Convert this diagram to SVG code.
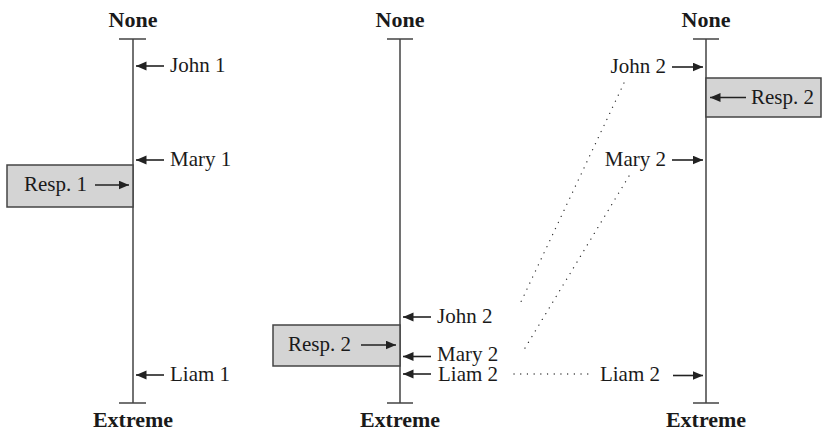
<svg xmlns="http://www.w3.org/2000/svg" width="822" height="432" viewBox="0 0 822 432">
<defs>
<style>
text{font-family:"Liberation Serif","Times New Roman",serif;fill:#1a1a1a;font-size:21px}
.h{font-weight:bold;font-size:22px;text-anchor:middle}
.ax{stroke:#444;stroke-width:1.5;fill:none}
.ar{stroke:#222;stroke-width:1.6;fill:none;marker-end:url(#ah)}
.box{fill:#d4d4d4;stroke:#444;stroke-width:1.5}
.dot{stroke:#333;stroke-width:1.3;fill:none;stroke-dasharray:0.1 6.6;stroke-linecap:round}
.e{text-anchor:end}
</style>
<marker id="ah" markerUnits="userSpaceOnUse" markerWidth="12" markerHeight="10" refX="10.5" refY="4.5" orient="auto">
<path d="M0,0 L10.5,4.5 L0,9 z" fill="#222"/>
</marker>
</defs>
<g id="axis1">
<text class="h" x="133" y="27">None</text>
<path class="ax" d="M133,39 V403 M119,39 H146 M119,403 H146"/>
<text class="h" x="133" y="427">Extreme</text>
</g>
<g id="axis2">
<text class="h" x="400" y="27">None</text>
<path class="ax" d="M400,39 V403 M387,39 H413 M387,403 H413"/>
<text class="h" x="400" y="427">Extreme</text>
</g>
<g id="axis3">
<text class="h" x="706" y="27">None</text>
<path class="ax" d="M706,39 V403 M693,39 H719 M693,403 H719"/>
<text class="h" x="706" y="427">Extreme</text>
</g>
<g id="resp1">
<rect class="box" x="7" y="165" width="126" height="42"/>
<text x="24" y="191">Resp. 1</text>
<line class="ar" x1="95" y1="185" x2="129" y2="185"/>
</g>
<g id="resp2-mid">
<rect class="box" x="273" y="325" width="127" height="41"/>
<text x="288" y="351">Resp. 2</text>
<line class="ar" x1="361" y1="345" x2="396" y2="345"/>
</g>
<g id="resp2-right">
<rect class="box" x="706" y="78" width="115" height="39"/>
<line class="ar" x1="746" y1="97.5" x2="710" y2="97.5"/>
<text x="751" y="104">Resp. 2</text>
</g>
<g id="john1"><line class="ar" x1="164" y1="66" x2="136" y2="66"/><text x="170" y="72">John 1</text></g>
<g id="mary1"><line class="ar" x1="164" y1="160" x2="136" y2="160"/><text x="170" y="166">Mary 1</text></g>
<g id="liam1"><line class="ar" x1="164" y1="375" x2="136" y2="375"/><text x="170" y="381">Liam 1</text></g>
<g id="john2-mid"><line class="ar" x1="431" y1="317" x2="403" y2="317"/><text x="437" y="323">John 2</text></g>
<g id="mary2-mid"><line class="ar" x1="431" y1="356.5" x2="403" y2="356.5"/><text x="437" y="360.5">Mary 2</text></g>
<g id="liam2-mid"><line class="ar" x1="431" y1="374" x2="403" y2="374"/><text x="438" y="380.5">Liam 2</text></g>
<g id="john2-right"><text class="e" x="666" y="73">John 2</text><line class="ar" x1="672" y1="67" x2="703" y2="67"/></g>
<g id="mary2-right"><text class="e" x="666" y="166">Mary 2</text><line class="ar" x1="672" y1="160" x2="703" y2="160"/></g>
<g id="liam2-right"><text class="e" x="660" y="381">Liam 2</text><line class="ar" x1="673" y1="375.5" x2="703" y2="375.5"/></g>
<g id="connectors">
<line class="dot" x1="624" y1="83" x2="519" y2="306"/>
<line class="dot" x1="629" y1="176" x2="522" y2="353"/>
<line class="dot" x1="514" y1="374" x2="593" y2="374"/>
</g>
</svg>
